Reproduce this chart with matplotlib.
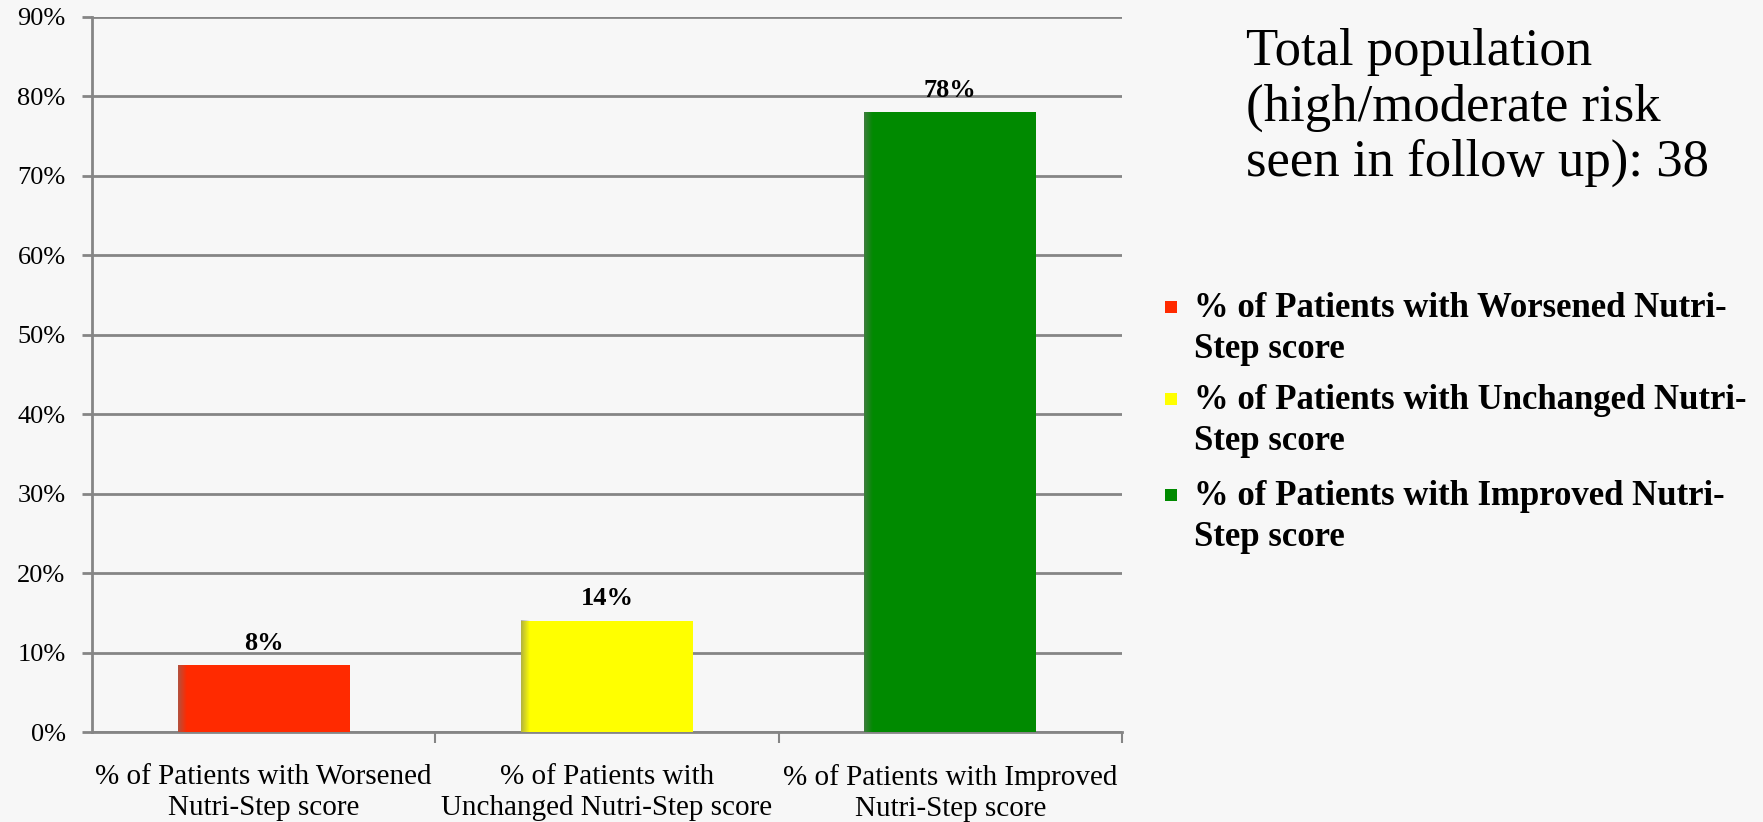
import matplotlib
matplotlib.use('Agg')
import matplotlib.pyplot as plt
import numpy as np
from matplotlib.patches import Rectangle

# data
categories = [
    "% of Patients with Worsened\nNutri-Step score",
    "% of Patients with\nUnchanged Nutri-Step score",
    "% of Patients with Improved\nNutri-Step score",
]
legend_labels = [
    "% of Patients with Worsened Nutri-\nStep score",
    "% of Patients with Unchanged Nutri-\nStep score",
    "% of Patients with Improved Nutri-\nStep score",
]
values = [8.4, 14.0, 78.0]
value_labels = ["8%", "14%", "78%"]
colors = ["#ff2a00", "#ffff00", "#008a00"]
y_ticks = list(range(0, 100, 10))
note = "Total population\n(high/moderate risk\nseen in follow up): 38"

plt.rcParams['font.family'] = ['Liberation Serif', 'DejaVu Serif']

bg = "#f7f7f7"
grid_c = "#858585"

fig = plt.figure(figsize=(17.63, 8.22), dpi=100, facecolor=bg)
ax = fig.add_axes([92 / 1763, 1 - 732 / 822, (1122 - 92) / 1763, (732 - 17) / 822])
ax.set_facecolor(bg)

x = range(len(categories))
bars = ax.bar(x, values, width=0.5, color=colors, zorder=3)

# soft grey shading on the left edge of each bar
shade = np.zeros((1, 64, 4))
shade[0, :, :3] = 0.45
shade[0, :, 3] = np.linspace(0.55, 0, 64)
for b in bars:
    bx, bw, bh = b.get_x(), b.get_width(), b.get_height()
    ax.imshow(shade, extent=(bx, bx + bw * 0.05, 0, bh), aspect='auto',
              interpolation='bilinear', zorder=3.5)

for xi, v, lab in zip(x, values, value_labels):
    ax.text(xi, v + 1.3, lab, ha='center', va='bottom',
            fontsize=19, fontweight='bold', zorder=4)

ax.set_xlim(-0.5, len(categories) - 0.5)
ax.set_ylim(0, 90)
ax.set_yticks(y_ticks)
ax.set_yticklabels([f"{t}%" for t in y_ticks], fontsize=19)
ax.yaxis.grid(True, color=grid_c, linewidth=2, zorder=0)
ax.set_axisbelow(True)

ax.set_xticks(list(x))
ax.set_xticklabels(categories, fontsize=21, linespacing=1.25)
ax.tick_params(axis='x', length=0, pad=23)
ax.set_xticks([0.5, 1.5, 2.5], minor=True)
ax.tick_params(axis='x', which='minor', length=8, width=1.5, color=grid_c)
ax.tick_params(axis='y', length=7, width=2, color=grid_c, pad=12)

for s in ['top', 'right']:
    ax.spines[s].set_visible(False)
for s in ['left', 'bottom']:
    ax.spines[s].set_color(grid_c)
    ax.spines[s].set_linewidth(2)

# note text
fig.text(1246 / 1763, 1 - 28 / 822, note, ha='left', va='top',
         fontsize=38, linespacing=1.2)

# legend drawn by hand so the square sits by the first line
line_y = [307, 399, 495]
for lab, c, ly in zip(legend_labels, colors, line_y):
    fig.patches.append(Rectangle((1165 / 1763, 1 - (ly + 6) / 822), 12 / 1763, 12 / 822,
                                 transform=fig.transFigure, facecolor=c,
                                 edgecolor='none'))
    fig.text(1194 / 1763, 1 - (ly - 15) / 822, lab, ha='left', va='top',
             fontsize=25, fontweight='bold', linespacing=1.33)

fig.savefig("out.png", dpi=100, facecolor=bg)
